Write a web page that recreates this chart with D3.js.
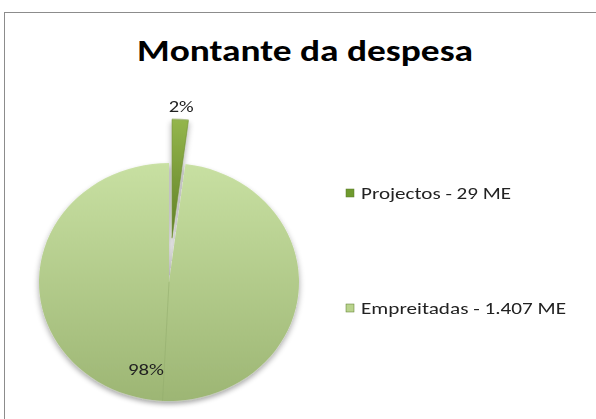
<!DOCTYPE html>
<html><head><meta charset="utf-8">
<script src="https://cdn.jsdelivr.net/npm/d3@7"></script>
<style>body{margin:0;background:#fff}svg{display:block}</style>
</head><body>
<svg id="c" width="596" height="419"></svg>
<script>
const title = "Montante da despesa";
const categories = ["Projectos - 29 ME", "Empreitadas - 1.407 ME"];
const values = [29, 1407];
const pctLabels = ["2%", "98%"];

const svg = d3.select("#c");
const defs = svg.append("defs");

function vgrad(id, c1, c2) {
  const g = defs.append("linearGradient").attr("id", id)
    .attr("x1", 0).attr("y1", 0).attr("x2", 0).attr("y2", 1);
  g.append("stop").attr("offset", "0%").attr("stop-color", c1);
  g.append("stop").attr("offset", "100%").attr("stop-color", c2);
}
vgrad("gBig", "#c8e0a2", "#9db674");
vgrad("gSmall", "#94b64c", "#5f7f26");
const colors = ["url(#gSmall)", "url(#gBig)"];
const legendColors = ["#6f9a2e", "#b9d38c"];

const f = defs.append("filter").attr("id", "sh").attr("x", "-20%").attr("y", "-20%").attr("width", "140%").attr("height", "140%");
f.append("feGaussianBlur").attr("in", "SourceAlpha").attr("stdDeviation", 3);
f.append("feOffset").attr("dx", 0).attr("dy", 3).attr("result", "b");
f.append("feComponentTransfer").append("feFuncA").attr("type", "linear").attr("slope", 0.35);
const fm = f.append("feMerge");
fm.append("feMergeNode");
fm.append("feMergeNode").attr("in", "SourceGraphic");

// frame
svg.append("rect").attr("x", 4.5).attr("y", 12.5).attr("width", 600).attr("height", 420)
  .attr("fill", "none").attr("stroke", "#8c8c8c").attr("stroke-width", 1);

// title
svg.append("text").attr("x", 305).attr("y", 61).attr("text-anchor", "middle")
  .attr("font-family", "Carlito, Lato, 'Open Sans', sans-serif").attr("font-weight", "bold")
  .attr("font-size", 31).attr("fill", "#000")
  .attr("textLength", 336).attr("lengthAdjust", "spacingAndGlyphs")
  .text(title);

// pie
const R = 130, sy = 0.915, explode = 48;
const pie = d3.pie().sort(null).value(d => d);
const arcs = pie(values);
const arc = d3.arc().innerRadius(0).outerRadius(R);
const g = svg.append("g").attr("transform", `translate(169,282) scale(1,${sy})`).attr("filter", "url(#sh)");

arcs.forEach((a, i) => {
  const mid = (a.startAngle + a.endAngle) / 2;
  const off = i === 0 ? explode : 0;
  const dx = off * Math.sin(mid), dy = -off * Math.cos(mid);
  g.append("path").attr("d", arc(a)).attr("transform", `translate(${dx},${dy})`)
    .attr("fill", colors[i]).attr("stroke", i === 0 ? "#6c8c30" : "none").attr("stroke-width", 0.6);
});
// seam of the big slice
g.append("line").attr("x1", 0).attr("y1", 0)
  .attr("x2", R * Math.sin(Math.PI + 0.05)).attr("y2", -R * Math.cos(Math.PI + 0.05))
  .attr("stroke", "#93ac6c").attr("stroke-width", 0.8).attr("opacity", 0.7);

// percent labels
const labelR = [193, 95];
const labelDx = [0, -17];
const labelW = [25, 36];
arcs.forEach((a, i) => {
  const mid = (a.startAngle + a.endAngle) / 2;
  const x = 169 + labelR[i] * Math.sin(mid) + labelDx[i];
  const y = 282 - labelR[i] * Math.cos(mid) * sy;
  svg.append("text").attr("x", x - labelW[i] / 2).attr("y", y).attr("dy", "0.35em")
    .attr("font-family", "Carlito, 'Open Sans', sans-serif").attr("font-size", 17).attr("fill", "#222")
    .attr("textLength", labelW[i]).attr("lengthAdjust", "spacingAndGlyphs")
    .text(pctLabels[i]);
});

// legend
const legY = d3.scalePoint().domain(categories).range([193, 308]);
const legWidths = [150, 205];
categories.forEach((c, i) => {
  const y = legY(c);
  svg.append("rect").attr("x", 346).attr("y", y - 4).attr("width", 8).attr("height", 8)
    .attr("fill", legendColors[i]).attr("stroke", "#5a7a2a").attr("stroke-width", 0.5);
  svg.append("text").attr("x", 361).attr("y", y + 6)
    .attr("font-family", "Carlito, 'Open Sans', sans-serif").attr("font-size", 16).attr("fill", "#222")
    .attr("textLength", legWidths[i]).attr("lengthAdjust", "spacingAndGlyphs")
    .text(c);
});
</script>
</body></html>
